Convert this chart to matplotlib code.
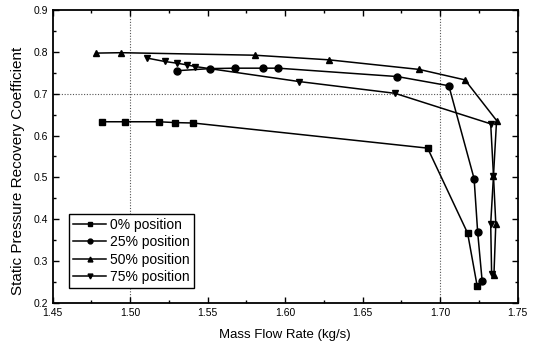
import matplotlib
matplotlib.use('agg')
import matplotlib.pyplot as plt
from matplotlib.ticker import MultipleLocator

plt.rcParams['font.family'] = ['Liberation Sans', 'DejaVu Sans']

# mass flow rate (kg/s) and static pressure recovery coefficient per series
x_0 = [1.4817, 1.497, 1.5185, 1.5292, 1.5408, 1.692, 1.7178, 1.724]
y_0 = [0.633, 0.633, 0.633, 0.631, 0.630, 0.570, 0.367, 0.240]

x_25 = [1.5305, 1.5518, 1.5675, 1.5856, 1.5956, 1.6724, 1.7057, 1.722, 1.7243, 1.7272]
y_25 = [0.755, 0.760, 0.761, 0.761, 0.761, 0.741, 0.719, 0.497, 0.369, 0.252]

x_50 = [1.4779, 1.4942, 1.5804, 1.6282, 1.6866, 1.7161, 1.7365, 1.7345, 1.736, 1.7348]
y_50 = [0.797, 0.798, 0.792, 0.781, 0.758, 0.733, 0.636, 0.504, 0.389, 0.268]

x_75 = [1.5112, 1.5224, 1.5301, 1.5366, 1.5419, 1.6092, 1.6709, 1.7327, 1.7345, 1.7327, 1.7333]
y_75 = [0.785, 0.777, 0.773, 0.769, 0.765, 0.729, 0.701, 0.628, 0.504, 0.389, 0.270]

labels = ['0% position', '25% position', '50% position', '75% position']
markers = ['s', 'o', '^', 'v']

fig = plt.figure(figsize=(5.37, 3.52), dpi=100)
ax = fig.add_axes([0.0978, 0.1392, 0.8659, 0.8324])

for xs, ys, lab, m in zip([x_0, x_25, x_50, x_75], [y_0, y_25, y_50, y_75], labels, markers):
    ax.plot(xs, ys, color='black', lw=1.1, marker=m, ms=5, label=lab)

ax.set_xlim(1.45, 1.75)
ax.set_ylim(0.2, 0.9)
ax.xaxis.set_major_locator(MultipleLocator(0.05))
ax.xaxis.set_minor_locator(MultipleLocator(0.025))
ax.yaxis.set_major_locator(MultipleLocator(0.1))
ax.yaxis.set_minor_locator(MultipleLocator(0.05))
ax.xaxis.set_major_formatter(lambda v, p: '%.2f' % v)
ax.yaxis.set_major_formatter(lambda v, p: '%.1f' % v)
ax.tick_params(which='both', direction='in', top=True, right=True, labelsize=7.5, width=1)
ax.tick_params(which='major', length=4)
ax.tick_params(which='minor', length=2.5)

for v in [1.50, 1.70]:
    ax.axvline(v, color='#555555', lw=0.8, ls=(0, (1, 1.5)), zorder=0)
ax.axhline(0.7, color='#555555', lw=0.8, ls=(0, (1, 1.5)), zorder=0)

for s in ax.spines.values():
    s.set_linewidth(1.3)

ax.set_xlabel('Mass Flow Rate (kg/s)', fontsize=9.5, labelpad=8)
ax.set_ylabel('Static Pressure Recovery Coefficient', fontsize=11)
ax.yaxis.set_label_coords(-0.06, 0.45)

leg = ax.legend(loc='lower left', bbox_to_anchor=(0.035, 0.05), borderaxespad=0,
                fontsize=10, fancybox=False, edgecolor='black', framealpha=1,
                handlelength=2.4, labelspacing=0.25, borderpad=0.3, markerscale=0.7,
                handletextpad=0.3)
leg.get_frame().set_linewidth(1.0)

plt.savefig('out.png', dpi=100)
